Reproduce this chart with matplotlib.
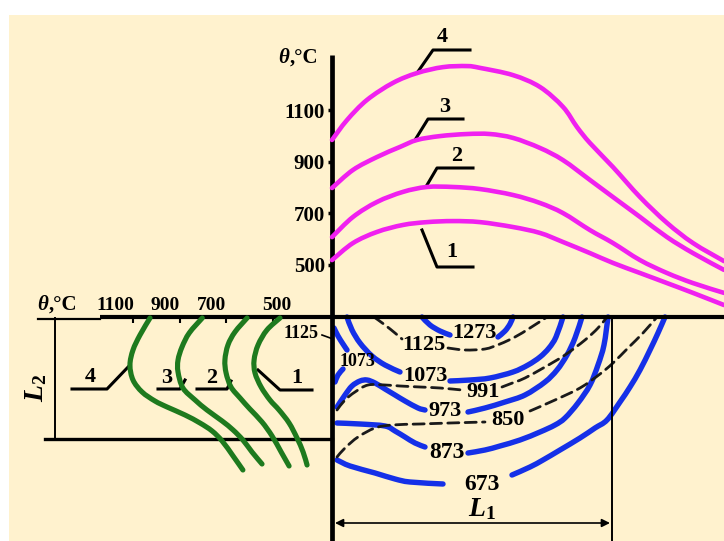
import matplotlib
matplotlib.use('Agg')
import matplotlib.pyplot as plt
import numpy as np
from matplotlib.patches import Rectangle, PathPatch
from matplotlib.path import Path

plt.rcParams['font.family'] = ['Liberation Serif', 'DejaVu Serif']
plt.rcParams['font.weight'] = 'bold'
plt.rcParams['mathtext.fontset'] = 'custom'
plt.rcParams['mathtext.rm'] = 'Liberation Serif:bold'
plt.rcParams['mathtext.it'] = 'Liberation Serif:italic:bold'
plt.rcParams['lines.scale_dashes'] = False

# ---------------- data ----------------
# upper panel: temperature (deg C) along the length for regimes 1..4
top_ticks = [500, 700, 900, 1100]
m4_dist = [0, 15, 35, 61, 85, 111, 135, 148, 181, 208, 231, 245, 258, 281, 308, 335, 361, 392]
m4_temp = [984, 1061, 1139, 1205, 1243, 1266, 1270, 1263, 1235, 1189, 1112, 1034, 972, 879, 763, 663, 585, 515]
m3_dist = [0, 21, 45, 68, 85, 108, 135, 158, 181, 208, 231, 258, 281, 308, 335, 361, 392]
m3_temp = [798, 868, 918, 957, 984, 999, 1007, 1007, 992, 953, 906, 829, 763, 686, 608, 546, 481]
m2_dist = [0, 21, 45, 71, 95, 121, 148, 181, 208, 231, 258, 281, 308, 335, 361, 392]
m2_temp = [608, 686, 744, 783, 802, 802, 794, 771, 740, 701, 635, 585, 519, 469, 430, 392]
m1_dist = [0, 21, 45, 71, 95, 121, 148, 181, 208, 231, 258, 281, 308, 335, 361, 392]
m1_temp = [519, 585, 628, 655, 666, 670, 666, 647, 624, 589, 546, 508, 469, 430, 392, 345]
curve_labels = ['1', '2', '3', '4']

# left panel: temperature (deg C) along the depth L2
left_ticks = [1100, 900, 700, 500]
g4_temp = [1027, 1070, 1100, 1113, 1100, 1061, 1006, 954, 877, 813, 761, 718, 671, 629]
g4_depth = [1, 18, 33, 48, 63, 75, 84, 90, 98, 106, 114, 124, 139, 153]
g3_temp = [803, 859, 890, 907, 907, 886, 834, 783, 718, 671, 629, 590, 547]
g3_depth = [1, 16, 30, 43, 55, 71, 83, 93, 104, 113, 123, 135, 147]
g2_temp = [611, 663, 693, 706, 701, 680, 641, 599, 547, 504, 465, 431]
g2_depth = [1, 15, 28, 43, 56, 70, 81, 92, 105, 119, 135, 149]
g1_temp = [470, 526, 564, 581, 577, 551, 513, 474, 431, 397, 371, 354]
g1_depth = [1, 13, 28, 43, 56, 70, 83, 93, 106, 121, 135, 148]

# lower-right panel: isotherms (K) in the cross-section (length, depth)
iso_1273 = [[(422, 317), (430, 325), (440, 331), (450, 335)],
            [(498, 337), (505, 331), (510, 324), (513, 317)]]
iso_1125 = [[(374, 317), (385, 325), (395, 333), (402, 339)],
            [(448, 348), (465, 350), (485, 349), (500, 344), (515, 337), (530, 328), (547, 317)]]
iso_1073 = [[(347, 317), (352, 330), (360, 343), (372, 356), (385, 365), (400, 372)],
            [(450, 381), (470, 380), (490, 378), (513, 372), (528, 365), (540, 357), (549, 348),
             (556, 337), (563, 317)]]
iso_991 = [[(337, 410), (345, 400), (355, 392), (368, 385), (385, 385), (400, 386), (420, 387),
            (440, 388), (462, 390)],
           [(502, 387), (515, 382), (525, 378), (545, 367), (565, 355), (585, 340), (598, 328), (607, 317)]]
iso_973 = [[(337, 407), (345, 395), (352, 386), (360, 381), (367, 380), (375, 383), (385, 389),
            (395, 395), (405, 401), (418, 408), (425, 410)],
           [(468, 412), (485, 408), (505, 402), (525, 395), (545, 382), (557, 370), (567, 355),
            (575, 338), (582, 317)]]
iso_850 = [[(337, 457), (345, 448), (358, 437), (375, 428), (392, 425), (420, 424), (450, 423), (485, 422)],
           [(530, 411), (555, 400), (580, 388), (600, 374), (613, 363), (628, 348), (643, 333), (657, 317)]]
iso_873 = [[(337, 423), (360, 424), (385, 426), (395, 431), (405, 437), (415, 443), (425, 447)],
           [(468, 453), (485, 450), (500, 446), (520, 440), (540, 432), (555, 425), (565, 418),
            (578, 403), (590, 385), (598, 365), (604, 345), (608, 317)]]
iso_673 = [[(337, 460), (350, 466), (375, 473), (395, 479), (410, 482), (443, 484)],
           [(512, 475), (530, 467), (543, 460), (560, 450), (580, 438), (595, 428), (607, 420),
            (620, 402), (630, 387), (640, 370), (650, 350), (658, 333), (665, 317)]]
iso_small_1125 = [(334, 328), (338, 336), (343, 344), (347, 350)]
iso_small_1073 = [(335, 382), (338, 375), (343, 369)]
iso_labels = [('1273', 474, 333, 16), ('1125', 424, 345, 16), ('1073', 425, 376, 16),
              ('991', 483, 392, 16), ('973', 445, 411, 16), ('850', 508, 420, 16),
              ('873', 447, 452, 17), ('673', 482, 484, 17),
              ('1125', 301, 334, 13), ('1073', 357, 361, 13)]

# ---------------- styles ----------------
CREAM = '#FFF2CE'
MAGENTA = '#F020F0'
BLUE = '#1530E8'
GREEN = '#1E7A1E'
W, H = 724, 541


def smooth_line(ax, xs, ys, color, lw, dashes=None, zorder=2, clip=True):
    """Draw a smooth curve through the given points (Catmull-Rom rendered as Bezier)."""
    P = np.column_stack([xs, ys]).astype(float)
    n = len(P)
    verts = [P[0]]
    codes = [Path.MOVETO]
    for i in range(n - 1):
        p0 = P[i - 1] if i > 0 else P[i]
        p1, p2 = P[i], P[i + 1]
        p3 = P[i + 2] if i + 2 < n else P[i + 1]
        verts += [p1 + (p2 - p0) / 6.0, p2 - (p3 - p1) / 6.0, p2]
        codes += [Path.CURVE4] * 3
    ls = '-' if dashes is None else (0, dashes)
    patch = PathPatch(Path(verts, codes), fill=False, edgecolor=color, lw=lw,
                      linestyle=ls, capstyle='round', joinstyle='round', zorder=zorder)
    patch.set_clip_on(clip)
    ax.add_patch(patch)


fig = plt.figure(figsize=(W / 100, H / 100), dpi=100)
fig.patch.set_facecolor('white')

base = fig.add_axes([0, 0, 1, 1])
base.set_xlim(0, W)
base.set_ylim(H, 0)
base.axis('off')
base.add_patch(Rectangle((9, 15), W - 9, H - 15, color=CREAM, zorder=0, lw=0))

# frame lines
base.plot([332, 332], [55, 541], color='k', lw=3.4, solid_capstyle='butt', zorder=3)
base.plot([100, 724], [317, 317], color='k', lw=3.0, solid_capstyle='butt', zorder=3)
base.plot([38, 100], [319, 319], color='k', lw=1.6, zorder=3)
base.plot([55, 55], [318, 439], color='k', lw=1.4, zorder=3)
base.plot([45, 332], [439, 439], color='k', lw=2.4, zorder=3)
base.plot([612, 612], [317, 541], color='k', lw=1.4, zorder=3)
base.annotate('', xy=(335, 523), xytext=(610, 523),
              arrowprops=dict(arrowstyle='<|-|>', color='k', lw=1.2, mutation_scale=12,
                              shrinkA=0, shrinkB=0), zorder=3)
base.text(482, 509, r'$L_1$', fontsize=20, ha='center', va='center', zorder=4)
base.text(36, 388, r'$L_2$', fontsize=20, ha='center', va='center', rotation=90, zorder=4)

# isotherms
for iso in [iso_1273, iso_1073, iso_973, iso_873, iso_673]:
    for seg in iso:
        xs, ys = zip(*seg)
        smooth_line(base, xs, ys, BLUE, 3.9)
for seg in [iso_small_1125, iso_small_1073]:
    xs, ys = zip(*seg)
    smooth_line(base, xs, ys, BLUE, 3.9)
for iso in [iso_1125, iso_991, iso_850]:
    for seg in iso:
        xs, ys = zip(*seg)
        smooth_line(base, xs, ys, '#1a1a1a', 2.0, dashes=(8, 4.5))
for s, x, y, fs in iso_labels:
    base.text(x, y, s, fontsize=fs, ha='center', va='center', zorder=4)
base.plot([322, 333], [335, 339], color='k', lw=1.2, zorder=3)

# ---------------- upper panel ----------------
def t_of_px(y):
    return 500 + (265 - y) * 3.871

ax_top = fig.add_axes([332 / W, (H - 317) / H, (W - 332) / W, 317 / H])
ax_top.set_xlim(0, W - 332)
ax_top.set_ylim(t_of_px(317), t_of_px(0))
ax_top.patch.set_visible(False)
for sp in ax_top.spines.values():
    sp.set_visible(False)
ax_top.set_xticks([])
ax_top.set_yticks(top_ticks)
ax_top.set_yticklabels([str(t) for t in top_ticks], fontsize=15, fontweight='bold')
ax_top.tick_params(axis='y', length=3, width=2.5, pad=2, direction='out')
for d, t in [(m1_dist, m1_temp), (m2_dist, m2_temp), (m3_dist, m3_temp), (m4_dist, m4_temp)]:
    smooth_line(ax_top, d, t, MAGENTA, 3.3, clip=False)

base.text(284, 58, 'θ', fontsize=15, style='italic', ha='center', va='center', zorder=4)
base.text(290, 58, ',°C', fontsize=15, ha='left', va='center', zorder=4)

# leaders of upper panel
top_leaders = {'4': [(417, 73), (433, 50), (470, 50)],
               '3': [(415, 140), (428, 119), (463, 119)],
               '2': [(427, 185), (437, 168), (473, 168)],
               '1': [(422, 230), (437, 267), (473, 267)]}
top_label_pos = {'4': (442, 37), '3': (445, 107), '2': (457, 156), '1': (452, 252)}
for k in curve_labels:
    xs, ys = zip(*top_leaders[k])
    base.plot(xs, ys, color='k', lw=2.2, zorder=5)
    base.text(*top_label_pos[k], k, fontsize=16, ha='center', va='center', zorder=5)

# ---------------- left panel ----------------
def t_of_x(x):
    return 1100 - (x - 133) * 4.286

ax_left = fig.add_axes([0, 0, 332 / W, (H - 317) / H])
ax_left.set_xlim(t_of_x(0), t_of_x(332))
ax_left.set_ylim(H - 317, 0)
ax_left.patch.set_visible(False)
for sp in ax_left.spines.values():
    sp.set_visible(False)
ax_left.set_yticks([])
ax_left.set_xticks(left_ticks)
ax_left.set_xticklabels([''] * len(left_ticks))
ax_left.xaxis.set_ticks_position('top')
ax_left.tick_params(axis='x', length=4, width=1.5, direction='in')
label_shift_px = [-18, -15, -15, 4]
for t, off in zip(left_ticks, label_shift_px):
    ax_left.text(t - off * 4.286, -12, str(t), fontsize=14, ha='center', va='center')
for t, d in [(g1_temp, g1_depth), (g2_temp, g2_depth), (g3_temp, g3_depth), (g4_temp, g4_depth)]:
    smooth_line(ax_left, t, d, GREEN, 3.7, clip=False)

base.text(43, 305, 'θ', fontsize=15, style='italic', ha='center', va='center', zorder=4)
base.text(49, 305, ',°C', fontsize=15, ha='left', va='center', zorder=4)

left_leaders = {'4': [(72, 389), (107, 389), (130, 365)],
                '3': [(158, 389), (180, 389), (185, 380)],
                '2': [(197, 389), (227, 389), (231, 381)],
                '1': [(258, 370), (280, 390), (312, 390)]}
left_label_pos = {'4': (90, 377), '3': (167, 378), '2': (212, 378), '1': (297, 378)}
for k in curve_labels:
    xs, ys = zip(*left_leaders[k])
    base.plot(xs, ys, color='k', lw=2.2, zorder=5)
    base.text(*left_label_pos[k], k, fontsize=16, ha='center', va='center', zorder=5)

fig.savefig('out.png', dpi=100, facecolor=fig.get_facecolor())
